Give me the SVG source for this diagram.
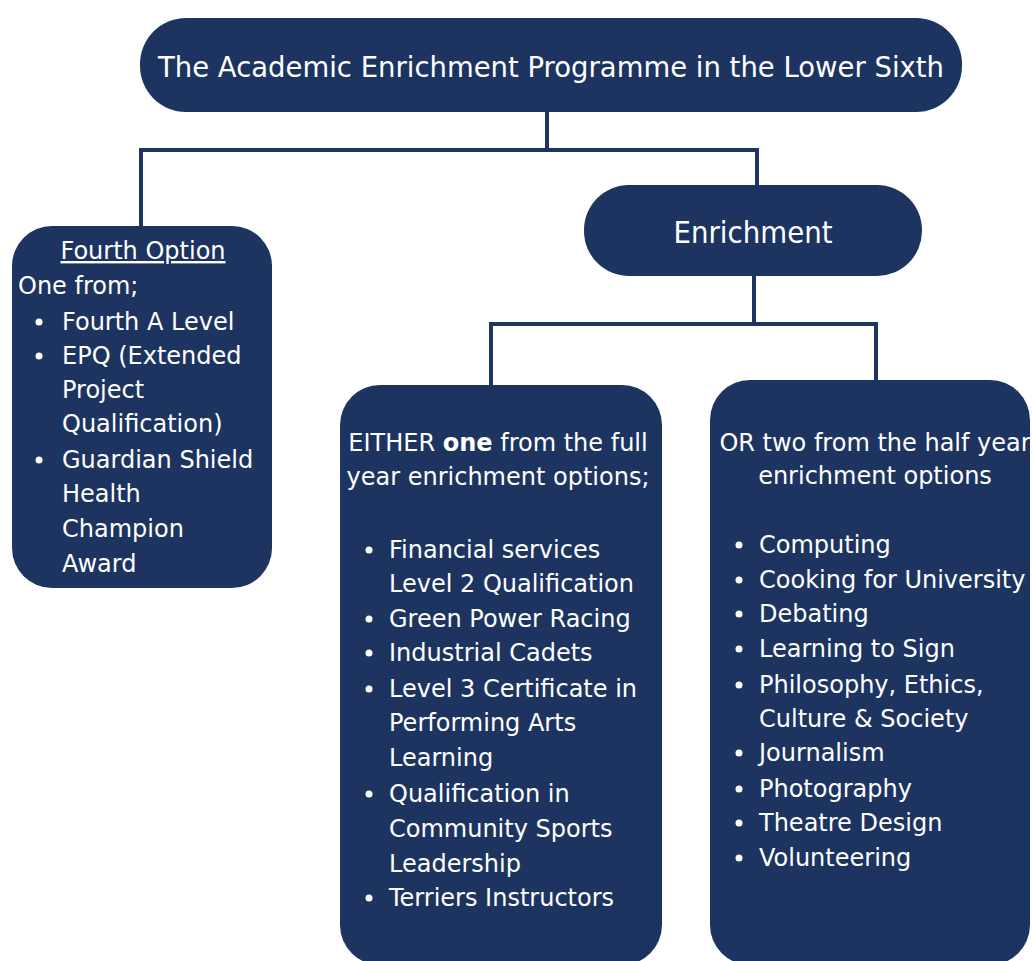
<svg xmlns="http://www.w3.org/2000/svg" width="1033" height="961" viewBox="0 0 1033 961">
<style>
.box{fill:#1d3461;}
.ln{stroke:#1d3461;stroke-width:4;fill:none;stroke-linecap:square;}
.t{fill:#ffffff;font-family:"DejaVu Sans","Liberation Sans",sans-serif;font-size:24px;}
.h{fill:#ffffff;font-family:"DejaVu Sans","Liberation Sans",sans-serif;}
.b{fill:#ffffff;}
</style>
<rect width="1033" height="961" fill="#ffffff"/>
<g id="connectors">
<path class="ln" d="M547 112 V150 M141 150 H757 M141 150 V228 M757 150 V186"/>
<path class="ln" d="M754 276 V324 M491 324 H876 M491 324 V386 M876 324 V382"/>
</g>
<g id="node-title">
<rect class="box" x="140" y="18" width="822" height="94" rx="46"/>
<text class="h" x="551" y="77" font-size="29" text-anchor="middle" textLength="786" lengthAdjust="spacingAndGlyphs">The Academic Enrichment Programme in the Lower Sixth</text>
</g>
<g id="node-enrichment">
<rect class="box" x="584" y="185" width="338" height="91" rx="45"/>
<text class="h" x="753" y="243" font-size="30" text-anchor="middle" textLength="159" lengthAdjust="spacingAndGlyphs">Enrichment</text>
</g>
<g id="node-fourth">
<rect class="box" x="12" y="226" width="260" height="362" rx="40"/>
<text class="t" x="143" y="259" text-anchor="middle" text-decoration="underline">Fourth Option</text>
<text class="t" x="18" y="294">One from;</text>
<circle class="b" cx="39" cy="322" r="3.5"/><text class="t" x="62" y="330">Fourth A Level</text>
<circle class="b" cx="39" cy="356" r="3.5"/><text class="t" x="62" y="364">EPQ (Extended</text>
<text class="t" x="62" y="398">Project</text>
<text class="t" x="62" y="432">Qualification)</text>
<circle class="b" cx="39" cy="460" r="3.5"/><text class="t" x="62" y="468">Guardian Shield</text>
<text class="t" x="62" y="502">Health</text>
<text class="t" x="62" y="537">Champion</text>
<text class="t" x="62" y="572">Award</text>
</g>
<g id="node-full-year">
<rect class="box" x="340" y="385" width="322" height="580" rx="40"/>
<text class="t" x="498" y="451" text-anchor="middle">EITHER <tspan font-weight="bold">one</tspan> from the full</text>
<text class="t" x="498" y="485" text-anchor="middle">year enrichment options;</text>
<circle class="b" cx="369" cy="550" r="3.5"/><text class="t" x="389" y="558">Financial services</text>
<text class="t" x="389" y="592">Level 2 Qualification</text>
<circle class="b" cx="369" cy="619" r="3.5"/><text class="t" x="389" y="627">Green Power Racing</text>
<circle class="b" cx="369" cy="653" r="3.5"/><text class="t" x="389" y="661">Industrial Cadets</text>
<circle class="b" cx="369" cy="689" r="3.5"/><text class="t" x="389" y="697">Level 3 Certificate in</text>
<text class="t" x="389" y="731">Performing Arts</text>
<text class="t" x="389" y="766">Learning</text>
<circle class="b" cx="369" cy="794" r="3.5"/><text class="t" x="389" y="802">Qualification in</text>
<text class="t" x="389" y="837">Community Sports</text>
<text class="t" x="389" y="872">Leadership</text>
<circle class="b" cx="369" cy="898" r="3.5"/><text class="t" x="389" y="906">Terriers Instructors</text>
</g>
<g id="node-half-year">
<rect class="box" x="710" y="380" width="320" height="585" rx="40"/>
<text class="t" x="875" y="451" text-anchor="middle">OR two from the half year</text>
<text class="t" x="875" y="484" text-anchor="middle">enrichment options</text>
<circle class="b" cx="739" cy="545" r="3.5"/><text class="t" x="759" y="553">Computing</text>
<circle class="b" cx="739" cy="580" r="3.5"/><text class="t" x="759" y="588">Cooking for University</text>
<circle class="b" cx="739" cy="614" r="3.5"/><text class="t" x="759" y="622">Debating</text>
<circle class="b" cx="739" cy="649" r="3.5"/><text class="t" x="759" y="657">Learning to Sign</text>
<circle class="b" cx="739" cy="685" r="3.5"/><text class="t" x="759" y="693">Philosophy, Ethics,</text>
<text class="t" x="759" y="727">Culture &amp; Society</text>
<circle class="b" cx="739" cy="753" r="3.5"/><text class="t" x="759" y="761">Journalism</text>
<circle class="b" cx="739" cy="789" r="3.5"/><text class="t" x="759" y="797">Photography</text>
<circle class="b" cx="739" cy="823" r="3.5"/><text class="t" x="759" y="831">Theatre Design</text>
<circle class="b" cx="739" cy="858" r="3.5"/><text class="t" x="759" y="866">Volunteering</text>
</g>
</svg>
